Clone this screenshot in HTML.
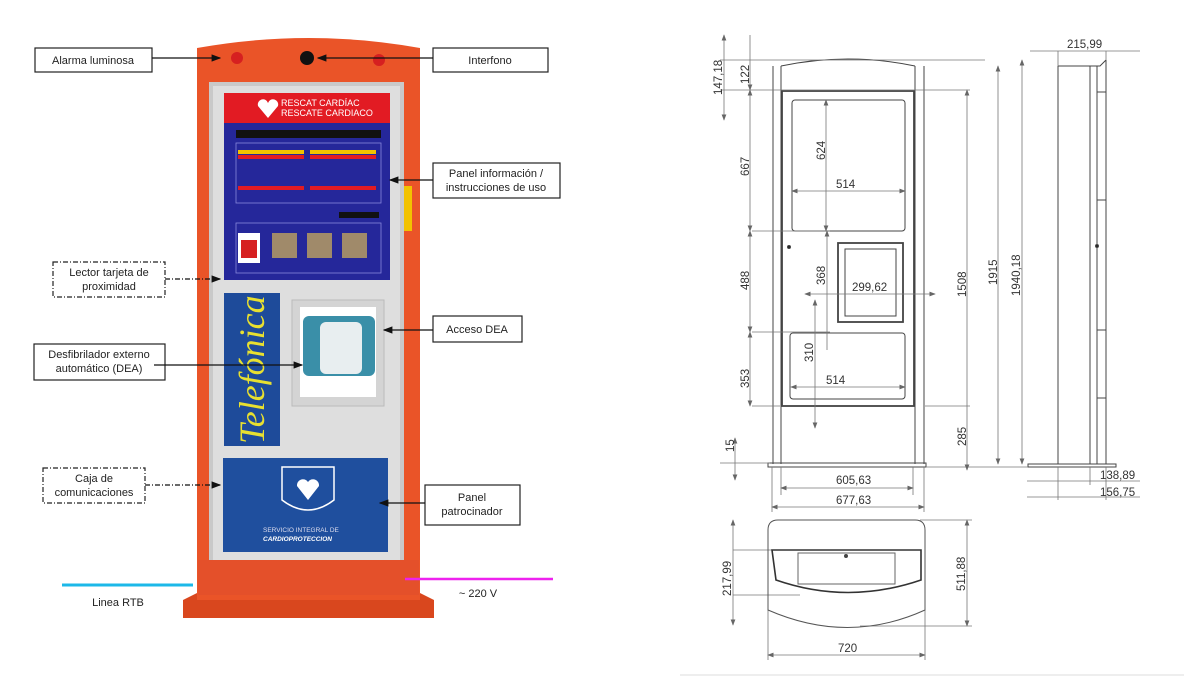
<!DOCTYPE html>
<html><head><meta charset="utf-8"><style>
html,body{margin:0;padding:0;background:#fff;width:1184px;height:689px;overflow:hidden}
svg{display:block}
.lb{font-family:"Liberation Sans",sans-serif;font-size:11px;fill:#222}
.dm{font-family:"Liberation Sans",sans-serif;font-size:11.5px;fill:#333}
</style></head><body>
<svg width="1184" height="689" viewBox="0 0 1184 689" xmlns="http://www.w3.org/2000/svg">
<defs>
<marker id="a" markerWidth="8" markerHeight="8" refX="7" refY="4" orient="auto"><path d="M0,1 L8,4 L0,7 z" fill="#111"/></marker>
<marker id="d" markerWidth="8" markerHeight="6" refX="7" refY="3" orient="auto-start-reverse"><path d="M0,0 L8,3 L0,6 z" fill="#666"/></marker>
</defs>
<!-- kiosk -->
<path d="M183,600 L197,593 L420,593 L434,600 L434,618 L183,618 z" fill="#d9471e"/>
<path d="M197,48 Q309,28 420,48 L420,600 L197,600 z" fill="#ea5428"/>
<rect x="209" y="82" width="195" height="486" fill="#c9c9c9"/>
<rect x="213" y="86" width="187" height="478" fill="#dedede"/>
<rect x="198" y="560" width="221" height="35" fill="#e4502a"/>
<circle cx="237" cy="58" r="6" fill="#d62020"/>
<circle cx="307" cy="58" r="7" fill="#111"/>
<circle cx="379" cy="60" r="6" fill="#d62020"/>
<rect x="404" y="186" width="8" height="45" fill="#f2c200"/>
<rect x="224" y="93" width="166" height="30" fill="#e21b23"/>
<path d="M258,106 a5,5 0 0 1 10,-3 a5,5 0 0 1 10,3 l-10,12 z" fill="#fff"/>
<text x="281" y="106" font-family="Liberation Sans" font-size="9" fill="#fff">RESCAT CARDÍAC</text>
<text x="281" y="116" font-family="Liberation Sans" font-size="9" fill="#fff">RESCATE CARDIACO</text>
<rect x="224" y="123" width="166" height="157" fill="#25279a"/>
<rect x="236" y="130" width="145" height="8" fill="#111"/>
<rect x="236" y="143" width="145" height="60" fill="none" stroke="#8888dd" stroke-width="0.8"/>
<rect x="238" y="150" width="66" height="4" fill="#f2c200"/><rect x="310" y="150" width="66" height="4" fill="#f2c200"/>
<rect x="238" y="155" width="66" height="4" fill="#e21b23"/><rect x="310" y="155" width="66" height="4" fill="#e21b23"/>
<rect x="238" y="186" width="66" height="4" fill="#e21b23"/><rect x="310" y="186" width="66" height="4" fill="#e21b23"/>
<rect x="339" y="212" width="40" height="6" fill="#111"/>
<rect x="236" y="223" width="145" height="50" fill="none" stroke="#8888dd" stroke-width="0.8"/>
<rect x="238" y="233" width="22" height="30" fill="#fff"/><rect x="241" y="240" width="16" height="18" fill="#d62020"/>
<rect x="272" y="233" width="25" height="25" fill="#a08a6a"/><rect x="307" y="233" width="25" height="25" fill="#a08a6a"/><rect x="342" y="233" width="25" height="25" fill="#a08a6a"/>
<rect x="224" y="293" width="56" height="153" fill="#1e4b9a"/>
<text transform="translate(264,444) rotate(-90)" font-family="Liberation Serif" font-style="italic" font-size="36" fill="#e8e030">Telefónica</text>
<rect x="292" y="300" width="92" height="106" fill="#d4d4d4" stroke="#bbb"/>
<rect x="300" y="307" width="76" height="90" fill="#fff"/>
<rect x="303" y="316" width="72" height="60" rx="6" fill="#3a8fa8"/>
<rect x="320" y="322" width="42" height="52" rx="6" fill="#e8eef0"/>
<rect x="223" y="458" width="165" height="94" fill="#1f4f9e"/>
<path d="M282,467 L334,467 L334,500 Q308,520 282,500 z" fill="none" stroke="#fff" stroke-width="1.5"/>
<path d="M297,486 a6,6 0 0 1 11,-4 a6,6 0 0 1 11,4 l-11,14 z" fill="#fff"/>
<text x="263" y="532" font-family="Liberation Sans" font-size="6.5" fill="#dde">SERVICIO INTEGRAL DE</text>
<text x="263" y="541" font-family="Liberation Sans" font-size="6.5" font-weight="bold" font-style="italic" fill="#fff">CARDIOPROTECCION</text>
<!-- labels -->
<rect x="35" y="48" width="117" height="24" fill="#fff" stroke="#222" stroke-width="1.2"/>
<text class="lb" x="93" y="64" text-anchor="middle">Alarma luminosa</text>
<line x1="152" y1="58" x2="220" y2="58" stroke="#111" stroke-width="1.2" marker-end="url(#a)"/>
<rect x="433" y="48" width="115" height="24" fill="#fff" stroke="#222" stroke-width="1.2"/>
<text class="lb" x="490" y="64" text-anchor="middle">Interfono</text>
<line x1="433" y1="58" x2="318" y2="58" stroke="#111" stroke-width="1.2" marker-end="url(#a)"/>
<rect x="433" y="163" width="127" height="35" fill="#fff" stroke="#222" stroke-width="1.2"/>
<text class="lb" x="496" y="177" text-anchor="middle">Panel información /</text>
<text class="lb" x="496" y="191" text-anchor="middle">instrucciones de uso</text>
<line x1="433" y1="180" x2="390" y2="180" stroke="#111" stroke-width="1.2" marker-end="url(#a)"/>
<rect x="53" y="262" width="112" height="35" fill="#fff" stroke="#222" stroke-width="1.2" stroke-dasharray="5,2,1,2"/>
<text class="lb" x="109" y="276" text-anchor="middle">Lector tarjeta de</text>
<text class="lb" x="109" y="290" text-anchor="middle">proximidad</text>
<line x1="165" y1="279" x2="220" y2="279" stroke="#111" stroke-width="1.2" stroke-dasharray="5,2,1,2" marker-end="url(#a)"/>
<rect x="433" y="316" width="89" height="26" fill="#fff" stroke="#222" stroke-width="1.2"/>
<text class="lb" x="477" y="333" text-anchor="middle">Acceso DEA</text>
<line x1="433" y1="330" x2="384" y2="330" stroke="#111" stroke-width="1.2" marker-end="url(#a)"/>
<rect x="34" y="344" width="131" height="36" fill="#fff" stroke="#222" stroke-width="1.2"/>
<text class="lb" x="99" y="358" text-anchor="middle">Desfibrilador externo</text>
<text class="lb" x="99" y="372" text-anchor="middle">automático (DEA)</text>
<line x1="154" y1="365" x2="302" y2="365" stroke="#111" stroke-width="1.2" marker-end="url(#a)"/>
<rect x="43" y="468" width="102" height="35" fill="#fff" stroke="#222" stroke-width="1.2" stroke-dasharray="5,2,1,2"/>
<text class="lb" x="94" y="482" text-anchor="middle">Caja de</text>
<text class="lb" x="94" y="496" text-anchor="middle">comunicaciones</text>
<line x1="145" y1="485" x2="220" y2="485" stroke="#111" stroke-width="1.2" stroke-dasharray="5,2,1,2" marker-end="url(#a)"/>
<rect x="425" y="485" width="95" height="40" fill="#fff" stroke="#222" stroke-width="1.2"/>
<text class="lb" x="472" y="501" text-anchor="middle">Panel</text>
<text class="lb" x="472" y="515" text-anchor="middle">patrocinador</text>
<line x1="425" y1="503" x2="380" y2="503" stroke="#111" stroke-width="1.2" marker-end="url(#a)"/>
<line x1="62" y1="585" x2="193" y2="585" stroke="#1cb8e8" stroke-width="3"/>
<text class="lb" x="118" y="606" text-anchor="middle">Linea RTB</text>
<line x1="405" y1="579" x2="553" y2="579" stroke="#ee22ee" stroke-width="2.5"/>
<text class="lb" x="478" y="597" text-anchor="middle">~ 220 V</text>
<!-- drawing -->
<g fill="none" stroke="#444" stroke-width="1">
<line x1="680" y1="675" x2="1184" y2="675" stroke="#ddd"/>
<path d="M773,66 L773,464 M781,66 L781,464 M915,66 L915,464 M924,66 L924,464"/>
<path d="M781,66 Q848,52 915,66" />
<rect x="782" y="91" width="132" height="315" stroke-width="1.8"/>
<rect x="792" y="100" width="113" height="131" rx="3"/>
<rect x="838" y="243" width="65" height="79" stroke-width="1.8"/>
<rect x="845" y="249" width="51" height="67"/>
<rect x="790" y="333" width="115" height="66" rx="3"/>
<rect x="768" y="463" width="158" height="4"/>
<circle cx="789" cy="247" r="1.5" fill="#222"/>
<!-- side -->
<path d="M1058,66 L1058,464 M1090,66 L1090,464 M1097,66 L1097,464 M1106,60 L1106,464 M1058,66 L1100,66 L1106,60"/>
<rect x="1097" y="92" width="9" height="108"/><rect x="1097" y="330" width="9" height="68"/>
<rect x="1028" y="464" width="88" height="3"/>
<circle cx="1097" cy="246" r="1.5" fill="#222"/>
<!-- dim lines -->
<g stroke="#777" stroke-width="0.8">
<line x1="720" y1="60" x2="985" y2="60"/><line x1="720" y1="90" x2="970" y2="90"/>
<line x1="752" y1="231" x2="830" y2="231"/><line x1="752" y1="332" x2="830" y2="332"/>
<line x1="752" y1="406" x2="780" y2="406"/><line x1="720" y1="463" x2="770" y2="463"/><line x1="925" y1="406" x2="970" y2="406"/>
<line x1="926" y1="467" x2="1028" y2="467"/>
<line x1="724" y1="35" x2="724" y2="120" marker-start="url(#d)" marker-end="url(#d)"/>
<line x1="750" y1="35" x2="750" y2="90" marker-end="url(#d)"/>
<line x1="750" y1="90" x2="750" y2="231" marker-start="url(#d)" marker-end="url(#d)"/>
<line x1="750" y1="231" x2="750" y2="332" marker-start="url(#d)" marker-end="url(#d)"/>
<line x1="750" y1="332" x2="750" y2="406" marker-start="url(#d)" marker-end="url(#d)"/>
<line x1="735" y1="438" x2="735" y2="480" marker-start="url(#d)" marker-end="url(#d)"/>
<line x1="826" y1="100" x2="826" y2="231" marker-start="url(#d)" marker-end="url(#d)"/>
<line x1="827" y1="231" x2="827" y2="350" marker-start="url(#d)"/>
<line x1="815" y1="300" x2="815" y2="428" marker-start="url(#d)" marker-end="url(#d)"/>
<line x1="792" y1="191" x2="905" y2="191" marker-start="url(#d)" marker-end="url(#d)"/>
<line x1="791" y1="387" x2="905" y2="387" marker-start="url(#d)" marker-end="url(#d)"/>
<line x1="805" y1="294" x2="935" y2="294" marker-start="url(#d)" marker-end="url(#d)"/>
<line x1="967" y1="90" x2="967" y2="470" marker-start="url(#d)" marker-end="url(#d)"/>
<line x1="998" y1="66" x2="998" y2="464" marker-start="url(#d)" marker-end="url(#d)"/>
<line x1="1022" y1="60" x2="1022" y2="464" marker-start="url(#d)" marker-end="url(#d)"/>
<line x1="1030" y1="51" x2="1140" y2="51"/><line x1="1058" y1="51" x2="1058" y2="66"/><line x1="1106" y1="51" x2="1106" y2="60"/>
<line x1="1027" y1="481" x2="1140" y2="481"/><line x1="1027" y1="497" x2="1140" y2="497"/>
<line x1="1058" y1="467" x2="1058" y2="500"/><line x1="1090" y1="467" x2="1090" y2="485"/><line x1="1106" y1="467" x2="1106" y2="500"/>
<line x1="781" y1="467" x2="781" y2="495"/><line x1="913" y1="467" x2="913" y2="495"/>
<line x1="772" y1="467" x2="772" y2="512"/><line x1="924" y1="467" x2="924" y2="512"/>
<line x1="781" y1="488" x2="913" y2="488" marker-start="url(#d)" marker-end="url(#d)"/>
<line x1="772" y1="507" x2="924" y2="507" marker-start="url(#d)" marker-end="url(#d)"/>
<!-- bottom view dims -->
<line x1="733" y1="520" x2="733" y2="625" marker-start="url(#d)" marker-end="url(#d)"/>
<line x1="733" y1="550" x2="775" y2="550"/><line x1="733" y1="595" x2="800" y2="595"/>
<line x1="967" y1="520" x2="967" y2="626" marker-start="url(#d)" marker-end="url(#d)"/>
<line x1="920" y1="520" x2="972" y2="520"/><line x1="860" y1="626" x2="972" y2="626"/>
<line x1="768" y1="600" x2="768" y2="660"/><line x1="925" y1="600" x2="925" y2="660"/>
<line x1="768" y1="655" x2="925" y2="655" marker-start="url(#d)" marker-end="url(#d)"/>
</g>
<path d="M768,600 L768,530 Q768,520 778,520 L915,520 Q925,520 925,530 L925,610 Q848,645 768,610 z" stroke="#555"/>
<path d="M772,550 L921,550 L921,580 Q848,605 776,580 z" stroke="#333" stroke-width="1.6"/>
<rect x="798" y="553" width="97" height="31" stroke="#666"/>
<circle cx="846" cy="556" r="1.5" fill="#444"/>
</g>
<g class="dm">
<text transform="translate(722,95) rotate(-90)">147,18</text>
<text transform="translate(749,84) rotate(-90)">122</text>
<text transform="translate(749,176) rotate(-90)">667</text>
<text transform="translate(749,290) rotate(-90)">488</text>
<text transform="translate(749,388) rotate(-90)">353</text>
<text transform="translate(734,452) rotate(-90)">15</text>
<text transform="translate(825,160) rotate(-90)">624</text>
<text transform="translate(825,285) rotate(-90)">368</text>
<text transform="translate(813,362) rotate(-90)">310</text>
<text x="836" y="188">514</text>
<text x="826" y="384">514</text>
<text x="852" y="291">299,62</text>
<text transform="translate(966,297) rotate(-90)">1508</text>
<text transform="translate(997,285) rotate(-90)">1915</text>
<text transform="translate(1020,296) rotate(-90)">1940,18</text>
<text transform="translate(966,446) rotate(-90)">285</text>
<text x="1067" y="48">215,99</text>
<text x="836" y="484">605,63</text>
<text x="836" y="504">677,63</text>
<text x="1100" y="479">138,89</text>
<text x="1100" y="496">156,75</text>
<text transform="translate(731,596) rotate(-90)">217,99</text>
<text transform="translate(965,591) rotate(-90)">511,88</text>
<text x="838" y="652">720</text>
</g>
</svg>
</body></html>
